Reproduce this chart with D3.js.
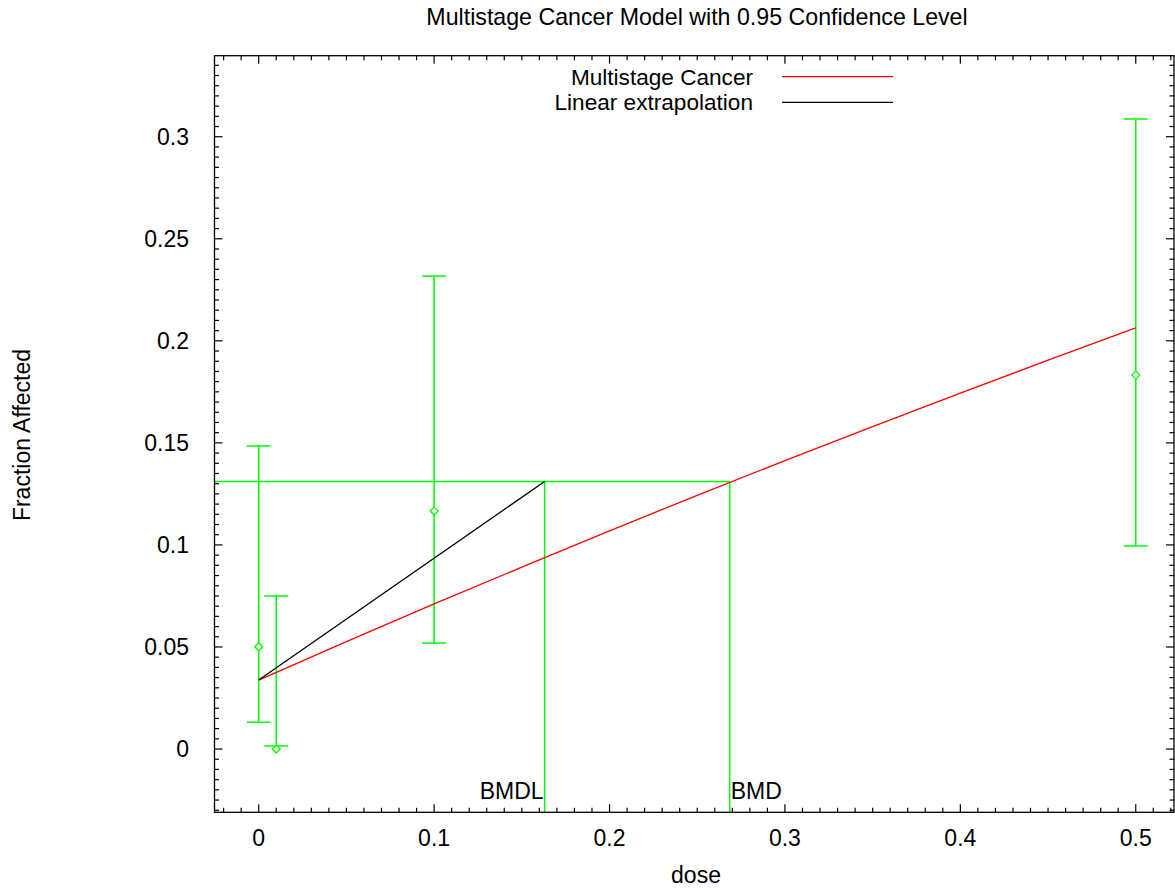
<!DOCTYPE html>
<html>
<head>
<meta charset="utf-8">
<script src="https://cdn.jsdelivr.net/npm/d3@7"></script>
<style>
  html, body { margin: 0; padding: 0; background: #fff; }
  text { font-family: "Liberation Sans", Arial, Helvetica, sans-serif; fill: #000; }
</style>
</head>
<body>
<svg id="chart" width="1175" height="888"></svg>
<script>
// ---- data ----
const chartTitle = "Multistage Cancer Model with 0.95 Confidence Level";
const xLabel = "dose";
const yLabel = "Fraction Affected";

const doses    = [0, 0.01, 0.1, 0.5];
const observed = [0.0501, 0.0, 0.1166, 0.1832];
const lowerCI  = [0.0131, 0.0015, 0.0519, 0.0995];
const upperCI  = [0.1485, 0.0750, 0.2317, 0.3087];

const modelDoses  = [0, 0.05, 0.1, 0.15, 0.2, 0.25, 0.3, 0.35, 0.4, 0.45, 0.5];
const modelValues = [0.0338, 0.0526, 0.0711, 0.0891, 0.1069, 0.1243, 0.1413, 0.1580, 0.1744, 0.1905, 0.2063];

const bmr  = 0.1311;
const bmd  = 0.2685;
const bmdl = 0.1630;
const linDoses  = [0, bmdl];
const linValues = [0.0338, bmr];

const xTicks = [0, 0.1, 0.2, 0.3, 0.4, 0.5];
const xTickLabels = ["0", "0.1", "0.2", "0.3", "0.4", "0.5"];
const yTicks = [0, 0.05, 0.1, 0.15, 0.2, 0.25, 0.3];
const yTickLabels = ["0", "0.05", "0.1", "0.15", "0.2", "0.25", "0.3"];

const legendNames = ["Multistage Cancer", "Linear extrapolation"];
const legendColors = ["#ff0000", "#000000"];

// ---- layout ----
const L = 214.5, R = 1174, T = 55.7, B = 812.3;
const green = "#00ff00";
const FS = 23;

const svg = d3.select("#chart");
const x = d3.scaleLinear().domain([-0.0252, 0.5218]).range([L, R]);
const y = d3.scaleLinear().domain([-0.031, 0.3397]).range([B, T]);

const xMinor = d3.range(-20, 53).map(i => i / 100).filter(v => v >= x.domain()[0] && v <= x.domain()[1] && !xTicks.some(t => Math.abs(t - v) < 1e-9));
const yMinor = d3.range(-6, 68).map(i => i * 0.005).filter(v => v >= y.domain()[0] && v <= y.domain()[1] && !yTicks.some(t => Math.abs(t - v) < 1e-9));

const gTicks = svg.append("g").attr("stroke", "#000").attr("stroke-width", 1.2);
function vt(v, len) {
  gTicks.append("line").attr("x1", x(v)).attr("x2", x(v)).attr("y1", B).attr("y2", B - len);
  gTicks.append("line").attr("x1", x(v)).attr("x2", x(v)).attr("y1", T).attr("y2", T + len);
}
function ht(v, len) {
  gTicks.append("line").attr("y1", y(v)).attr("y2", y(v)).attr("x1", L).attr("x2", L + len);
  gTicks.append("line").attr("y1", y(v)).attr("y2", y(v)).attr("x1", R).attr("x2", R - len);
}
xTicks.forEach(v => vt(v, 8));
xMinor.forEach(v => vt(v, 4.5));
yTicks.forEach(v => ht(v, 8));
yMinor.forEach(v => ht(v, 4.5));

// tick labels
svg.append("g").selectAll("text").data(xTicks).join("text")
  .attr("x", d => x(d)).attr("y", 846).attr("text-anchor", "middle")
  .attr("font-size", FS).text((d, i) => xTickLabels[i]);
svg.append("g").selectAll("text").data(yTicks).join("text")
  .attr("x", 189).attr("y", d => y(d)).attr("dy", "0.36em").attr("text-anchor", "end")
  .attr("font-size", FS).text((d, i) => yTickLabels[i]);

// titles
svg.append("text").attr("x", 697).attr("y", 25).attr("text-anchor", "middle").attr("font-size", 23.2).text(chartTitle);
svg.append("text").attr("x", 696).attr("y", 883).attr("text-anchor", "middle").attr("font-size", FS).text(xLabel);
svg.append("text").attr("transform", "translate(30,435) rotate(-90)").attr("text-anchor", "middle").attr("font-size", FS).text(yLabel);

// clip
svg.append("clipPath").attr("id", "clip").append("rect").attr("x", L).attr("y", T).attr("width", R - L).attr("height", B - T);
const plot = svg.append("g").attr("clip-path", "url(#clip)");

// BMR / BMD / BMDL lines
plot.append("line").attr("x1", L).attr("x2", x(bmd)).attr("y1", y(bmr)).attr("y2", y(bmr)).attr("stroke", green).attr("stroke-width", 1.5);
plot.append("line").attr("x1", x(bmdl)).attr("x2", x(bmdl)).attr("y1", y(bmr)).attr("y2", B).attr("stroke", green).attr("stroke-width", 1.5);
plot.append("line").attr("x1", x(bmd)).attr("x2", x(bmd)).attr("y1", y(bmr)).attr("y2", B).attr("stroke", green).attr("stroke-width", 1.5);

// error bars
const eb = plot.append("g").attr("stroke", green).attr("stroke-width", 1.5).attr("fill", "none");
doses.forEach((d, i) => {
  eb.append("line").attr("x1", x(d)).attr("x2", x(d)).attr("y1", y(lowerCI[i])).attr("y2", y(upperCI[i]));
  eb.append("line").attr("x1", x(d) - 12).attr("x2", x(d) + 12).attr("y1", y(lowerCI[i])).attr("y2", y(lowerCI[i]));
  eb.append("line").attr("x1", x(d) - 12).attr("x2", x(d) + 12).attr("y1", y(upperCI[i])).attr("y2", y(upperCI[i]));
});
// diamonds
plot.append("g").selectAll("path").data(doses).join("path")
  .attr("d", (d, i) => { const cx = x(d), cy = y(observed[i]), r = 4; return `M${cx - r},${cy}L${cx},${cy - r}L${cx + r},${cy}L${cx},${cy + r}Z`; })
  .attr("fill", "#fff").attr("stroke", green).attr("stroke-width", 1.3);

// model curve
const line = d3.line().x(d => x(d[0])).y(d => y(d[1]));
plot.append("path").datum(modelDoses.map((d, i) => [d, modelValues[i]])).attr("d", line)
  .attr("fill", "none").attr("stroke", "#ff0000").attr("stroke-width", 1.3);
// linear extrapolation
plot.append("path").datum(linDoses.map((d, i) => [d, linValues[i]])).attr("d", line)
  .attr("fill", "none").attr("stroke", "#000").attr("stroke-width", 1.3);

// BMD labels
svg.append("text").attr("x", x(bmdl) - 1).attr("y", 799).attr("text-anchor", "end").attr("font-size", FS).text("BMDL");
svg.append("text").attr("x", x(bmd) + 1).attr("y", 799).attr("text-anchor", "start").attr("font-size", FS).text("BMD");

// legend
legendNames.forEach((n, i) => {
  const ly = 76.7 + i * 25.6;
  svg.append("text").attr("x", 753).attr("y", ly).attr("dy", "0.36em").attr("text-anchor", "end").attr("font-size", 22.6).text(n);
  svg.append("line").attr("x1", 782).attr("x2", 893).attr("y1", ly).attr("y2", ly).attr("stroke", legendColors[i]).attr("stroke-width", 1.3);
});

// frame
svg.append("rect").attr("x", L).attr("y", T).attr("width", R - L).attr("height", B - T)
  .attr("fill", "none").attr("stroke", "#000").attr("stroke-width", 1.3);
</script>
</body>
</html>
